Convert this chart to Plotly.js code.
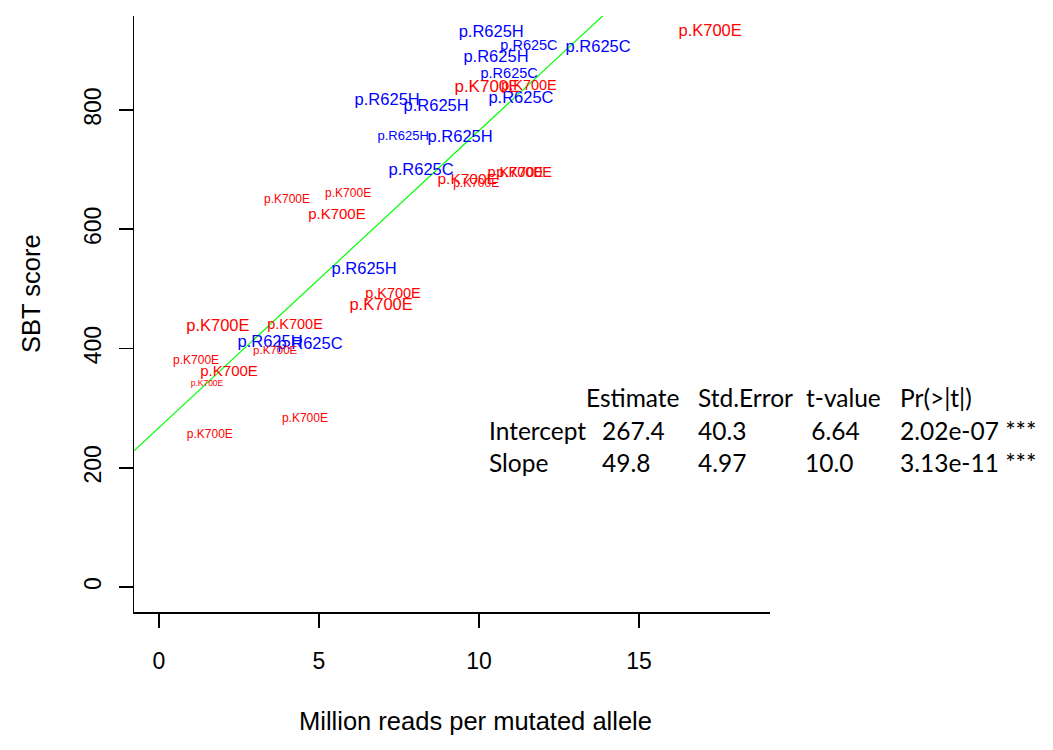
<!DOCTYPE html>
<html>
<head>
<meta charset="utf-8">
<script src="https://cdn.plot.ly/plotly-3.0.1.min.js"></script>
<style>html,body{margin:0;padding:0;background:#fff;}#chart{width:1053px;height:750px;}</style>
</head>
<body>
<div id="chart"></div>
<script>
// ---- data ----
const blueLabels = ["p.R625H","p.R625C","p.R625C","p.R625H","p.R625C","p.R625C","p.R625H","p.R625H","p.R625H","p.R625H","p.R625C","p.R625H","p.R625H","p.R625C"];
const blueX = [10.38, 11.56, 13.72, 10.53, 10.94, 11.31, 7.13, 8.66, 7.63, 9.41, 8.19, 6.41, 3.47, 4.72];
const blueY = [929, 906, 904, 887, 860, 818, 815, 805, 755, 753, 698, 532, 409, 406];
const blueSize = [16.5, 14.5, 16.5, 16.5, 14.5, 16.5, 16.5, 16.5, 13, 16.5, 16.5, 16.5, 16.5, 16.5];

const redLabels = ["p.K700E","p.K700E","p.K700E","p.K700E","p.K700E","p.K700E","p.K700E","p.K700E","p.K700E","p.K700E","p.K700E","p.K700E","p.K700E","p.K700E","p.K700E","p.K700E","p.K700E","p.K700E","p.K700E","p.K700E"];
const redX = [17.22, 10.25, 11.56, 9.63, 9.91, 11.13, 11.41, 4.00, 5.91, 5.56, 7.31, 6.94, 1.84, 4.25, 3.63, 1.16, 2.19, 1.50, 4.56, 1.59];
const redY = [931, 837, 840, 683, 676, 694, 694, 649, 659, 624, 490, 471, 436, 439, 396, 379, 361, 341, 282, 255];
const redSize = [16.5, 17, 14.5, 15.5, 12, 14.5, 14.5, 12, 12, 15, 14.5, 16.5, 16.5, 14.5, 11.5, 12, 15, 8.5, 12, 12];

// regression table
const tableColumns = ["Estimate", "Std.Error", "t-value", "Pr(>|t|)"];
const rowNames = ["Intercept", "Slope"];
const estimateText = ["267.4", "49.8"];
const stdErrorText = ["40.3", "4.97"];
const tValueText = ["\u00a06.64", "10.0"];
const pValueText = ["2.02e-07 ***", "3.13e-11 ***"];

const xTickVals = [0, 5, 10, 15];
const yTickVals = [0, 200, 400, 600, 800];
const xTitle = "Million reads per mutated allele";
const yTitle = "SBT score";

// ---- layout geometry (pixels) ----
const W = 1053, H = 750;
const plotL = 134, plotR = 770, plotT = 16, plotB = 612;
const xRange = [-0.78, 19.09];
const yRange = [-41.9, 957.6];

const intercept = parseFloat(estimateText[0]);
const slope = parseFloat(estimateText[1]);
const fitX = [xRange[0], xRange[1]];
const fitY = fitX.map(v => intercept + slope * v);

const px2paperX = p => (p - plotL) / (plotR - plotL);
const px2paperY = p => (plotB - p) / (plotB - plotT);

const dataFont = "Liberation Sans, Arial, sans-serif";
const axisFont = "Liberation Sans, Arial, sans-serif";
const tableFont = "Lato, Open Sans, sans-serif";

const traces = [
  {
    x: fitX, y: fitY, mode: "lines", type: "scatter",
    line: {color: "#00ff00", width: 1.2}, hoverinfo: "skip", showlegend: false
  },
  {
    x: blueX, y: blueY, text: blueLabels, mode: "text", type: "scatter",
    textposition: "middle center",
    textfont: {family: dataFont, size: blueSize, color: "#0000ff"},
    showlegend: false
  },
  {
    x: redX, y: redY, text: redLabels, mode: "text", type: "scatter",
    textposition: "middle center",
    textfont: {family: dataFont, size: redSize, color: "#ff0000"},
    showlegend: false
  }
];

const annotations = [];
const headerX = [584, 696, 804, 898];
const cellX = [600, 696, 803, 898];
const rowY = [397, 430, 462];
const tFont = {family: tableFont, size: 24.5, color: "#000000"};
tableColumns.forEach((t, i) => annotations.push({
  text: t, xref: "paper", yref: "paper", x: px2paperX(headerX[i]), y: px2paperY(rowY[0]),
  xanchor: "left", yanchor: "middle", showarrow: false, font: tFont
}));
rowNames.forEach((name, r) => {
  const cells = [name, estimateText[r], stdErrorText[r], tValueText[r], pValueText[r]];
  const xs = [487].concat(cellX);
  cells.forEach((c, i) => annotations.push({
    text: c, xref: "paper", yref: "paper", x: px2paperX(xs[i]), y: px2paperY(rowY[r + 1]),
    xanchor: "left", yanchor: "middle", showarrow: false, font: tFont
  }));
});
// axis titles
annotations.push({
  text: xTitle, xref: "paper", yref: "paper", x: px2paperX(475), y: px2paperY(721),
  xanchor: "center", yanchor: "middle", showarrow: false,
  font: {family: axisFont, size: 25.5, color: "#000000"}
});
annotations.push({
  text: yTitle, xref: "paper", yref: "paper", x: px2paperX(31), y: px2paperY(294),
  xanchor: "center", yanchor: "middle", showarrow: false, textangle: -90,
  font: {family: axisFont, size: 25.5, color: "#000000"}
});

const layout = {
  width: W, height: H,
  margin: {l: plotL, r: W - plotR, t: plotT, b: H - plotB, pad: 0},
  paper_bgcolor: "#ffffff", plot_bgcolor: "#ffffff",
  showlegend: false,
  xaxis: {
    range: xRange, tickvals: xTickVals, ticktext: xTickVals.map(String),
    showgrid: false, zeroline: false, showline: true, linecolor: "#000000", linewidth: 1.5,
    ticks: "outside", ticklen: 14, tickwidth: 1.5, tickcolor: "#000000",
    ticklabelstandoff: 14,
    tickfont: {family: axisFont, size: 23, color: "#000000"}
  },
  yaxis: {
    range: yRange, tickvals: yTickVals, ticktext: yTickVals.map(String),
    showgrid: false, zeroline: false, showline: true, linecolor: "#000000", linewidth: 1.5,
    ticks: "outside", ticklen: 14, tickwidth: 1.5, tickcolor: "#000000",
    tickangle: -90, ticklabelstandoff: 8,
    tickfont: {family: axisFont, size: 23, color: "#000000"}
  },
  annotations: annotations
};

Plotly.newPlot("chart", traces, layout, {staticPlot: true, displayModeBar: false});
</script>
</body>
</html>
